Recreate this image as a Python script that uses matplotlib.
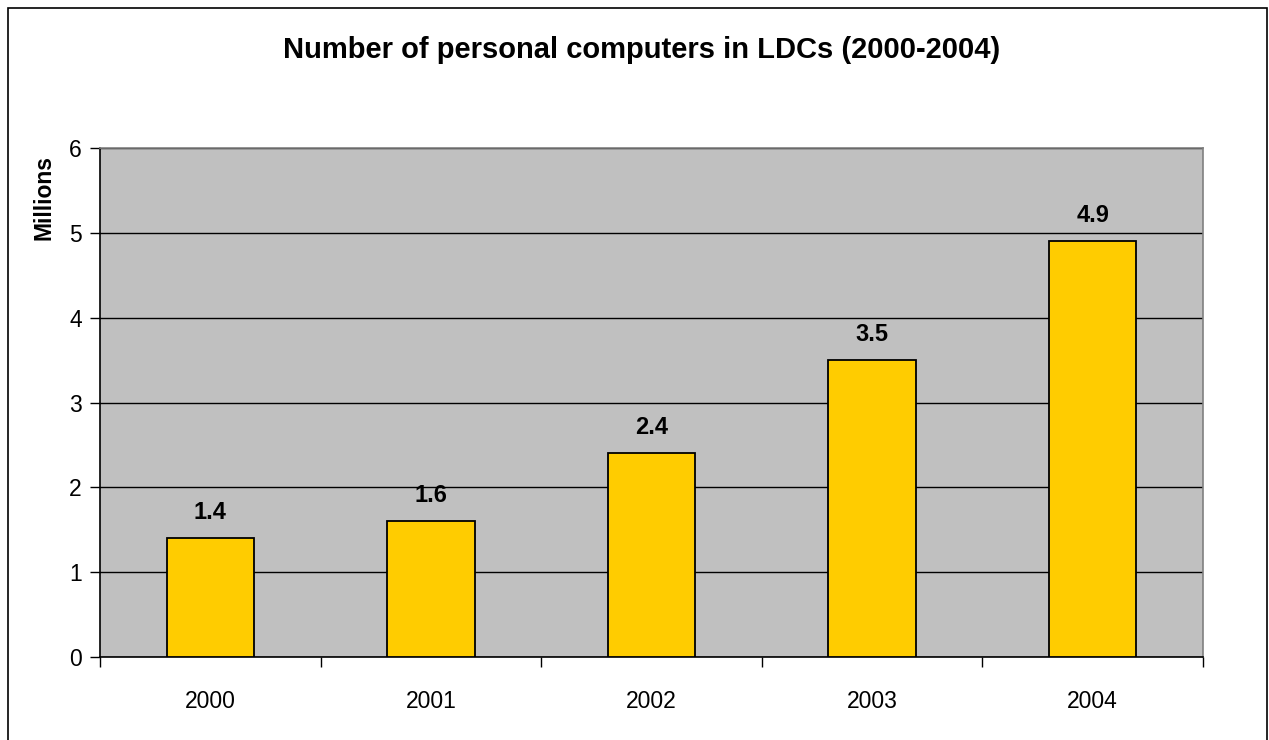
import matplotlib.pyplot as plt
from matplotlib.patches import Rectangle

years = ["2000", "2001", "2002", "2003", "2004"]
pcs_millions = [1.4, 1.6, 2.4, 3.5, 4.9]
value_labels = ["1.4", "1.6", "2.4", "3.5", "4.9"]

plt.rcParams["font.family"] = ["Liberation Sans", "DejaVu Sans"]

W, H = 1269, 740
fig = plt.figure(figsize=(W / 100, H / 100), dpi=100)
ax = fig.add_axes([100 / W, 1 - 657 / H, 1103 / W, 509 / H])

# frame around the whole chart
fig.patches.append(Rectangle((8 / W, -0.01), (1267 - 8) / W, 1 - 8 / H + 0.01,
                             transform=fig.transFigure, fill=False,
                             edgecolor="black", linewidth=1.2))

ax.set_facecolor("#C0C0C0")
for s in ax.spines.values():
    s.set_color("#808080")
    s.set_linewidth(1.2)
ax.spines["left"].set_color("black")
ax.spines["bottom"].set_color("black")

x = range(len(years))
ax.bar(x, pcs_millions, width=0.397, color="#FFCC00", edgecolor="black",
       linewidth=1.3, zorder=3)
for xi, v, lab in zip(x, pcs_millions, value_labels):
    ax.text(xi, v + 0.23, lab, ha="center", va="baseline", fontsize=17,
            fontweight="bold")

ax.set_xlim(-0.5, len(years) - 0.5)
ax.set_ylim(0, 6)
ax.set_yticks(range(7))
ax.yaxis.grid(True, color="black", linewidth=1)
ax.set_axisbelow(True)

# category ticks sit at the boundaries between bars
ax.set_xticks([i - 0.5 for i in range(len(years) + 1)])
ax.set_xticklabels([])
ax.set_xticks(list(x), minor=True)
ax.set_xticklabels(years, minor=True)
ax.tick_params(axis="x", which="major", length=7, width=1)
ax.tick_params(axis="x", which="minor", length=0, pad=24, labelsize=16.5)
ax.tick_params(axis="y", length=7, width=1, pad=6, labelsize=16.5)

fig.text(44 / W, 1 - 198 / H, "Millions", rotation=90, ha="center",
         va="center", fontsize=16.5, fontweight="bold")
fig.text(642 / W, 1 - 50 / H, "Number of personal computers in LDCs (2000-2004)",
         ha="center", va="center", fontsize=21, fontweight="bold")

fig.savefig("out.png", dpi=100)
